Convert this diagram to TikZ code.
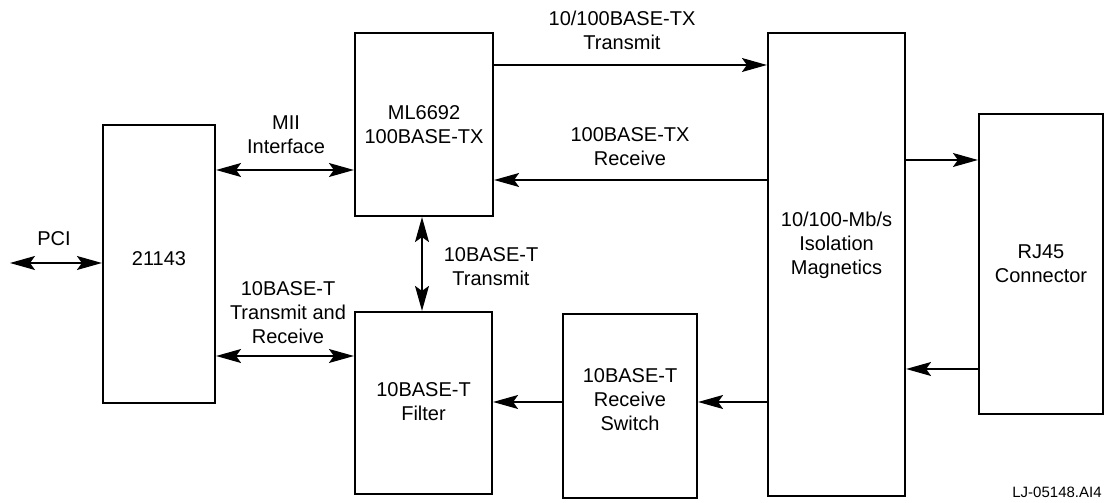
\documentclass[tikz,border=0pt]{standalone}
\usepackage{fontspec}
\setmainfont{Liberation Sans}
\usetikzlibrary{arrows.meta}
\newcommand{\blk}[7]{%
  \node[blockbox, minimum width=#4pt, minimum height=#5pt] (#1) at (#2,#3) {};
  \node[lbl] (#1txt) at ([yshift=#7pt]#1.center) {#6};}
\tikzset{
  blockbox/.style={draw, line width=2.2pt, inner sep=0pt},
  lbl/.style={align=center, inner sep=0pt},
  sig/.style={line width=1.2pt, -{Stealth[length=25pt,width=14pt,inset=5pt]}},
  bisig/.style={line width=1.2pt, {Stealth[length=25pt,width=14pt,inset=5pt]}-{Stealth[length=25pt,width=14pt,inset=5pt]}}
}

\begin{document}
\begin{tikzpicture}[x=1pt, y=1pt, font=\fontsize{20}{24}\selectfont]
	\useasboundingbox (0,0) rectangle (1106,503);

	% blocks
	\blk{nic}{159}{239}{112}{278}{21143}{5}
	\blk{phy}{424}{378.5}{138}{183}{ML6692\\100BASE-TX}{0}
	\blk{filt}{423.5}{100}{137}{182}{10BASE-T\\Filter}{1}
	\blk{rsw}{630}{97}{134}{184}{10BASE-T\\Receive\\Switch}{6}
	\blk{mag}{836.5}{238.5}{137}{463}{10/100-Mb/s\\Isolation\\Magnetics}{19.5}
	\blk{rj}{1041}{239}{124}{300}{RJ45\\Connector}{0}

	% signal levels
	\coordinate (pcif) at (10,240);
	\coordinate (lvMII) at (0,333);
	\coordinate (lvTR) at (0,147);
	\coordinate (lvTX) at (0,438);
	\coordinate (lvRX) at (0,323);
	\coordinate (lvUP) at (0,343);
	\coordinate (lvDN) at (0,134);
	\coordinate (lvRS) at (0,101);
	\coordinate (colV) at (422,0);

	% connectors
	\draw[bisig] (pcif) -- (nic.west |- pcif);
	\draw[bisig] (nic.east |- lvMII) -- (phy.west |- lvMII);
	\draw[bisig] (nic.east |- lvTR) -- (filt.west |- lvTR);
	\draw[bisig] (phy.south -| colV) -- (filt.north -| colV);
	\draw[sig] (phy.east |- lvTX) -- (mag.west |- lvTX);
	\draw[sig] (mag.west |- lvRX) -- (phy.east |- lvRX);
	\draw[sig] (mag.east |- lvUP) -- (rj.west |- lvUP);
	\draw[sig] (rj.west |- lvDN) -- (mag.east |- lvDN);
	\draw[sig] (mag.west |- lvRS) -- (rsw.east |- lvRS);
	\draw[sig] (rsw.west |- lvRS) -- (filt.east |- lvRS);

	% labels
	\node[lbl] (pciLbl) at (54,264) {PCI};
	\node[lbl] (miiLbl) at (286,368) {MII\\Interface};
	\node[lbl] (trLbl) at (288,190) {10BASE-T\\Transmit and\\Receive};
	\node[lbl] (tenLbl) at (491,236.5) {10BASE-T\\Transmit};
	\node[lbl] (txLbl) at (622,472.5) {10/100BASE-TX\\Transmit};
	\node[lbl] (rxLbl) at (630,356) {100BASE-TX\\Receive};
	\node[lbl, font=\fontsize{15}{18}\selectfont] (figId) at (1057,11) {LJ-05148.AI4};
\end{tikzpicture}
\end{document}
